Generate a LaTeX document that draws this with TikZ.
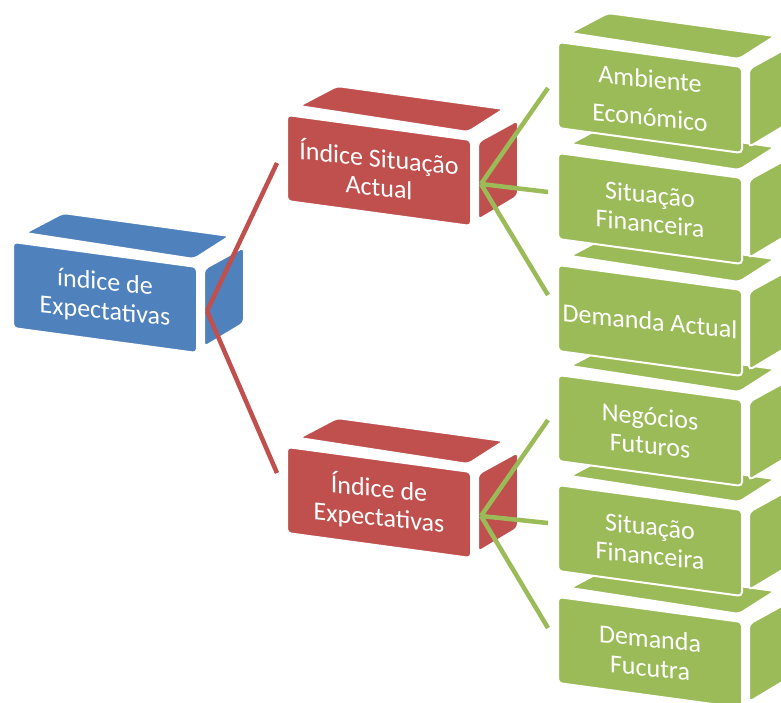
\documentclass[tikz,border=0pt]{standalone}
\usepackage{fontspec}
\setmainfont{Carlito}
\definecolor{cblue}{HTML}{4F81BD}
\definecolor{cred}{HTML}{C0504D}
\definecolor{cgreen}{HTML}{9BBB59}
\tikzset{
  face/.style={fill=#1, draw=white, line width=2pt, rounded corners=4pt},
  lbl/.style={text=white, align=center, font=\fontsize{26}{29}\selectfont, yslant=-0.1, inner sep=0pt},
  link/.style={line width=4.5pt, draw=#1}
}
\newcommand{\cubebox}[5]{%
  \path[face=#4] (#2+191,#3+27) -- (#2+231,#3+5) -- (#2+231,#3+81) -- (#2+191,#3+105) -- cycle;
  \path[face=#4] (#2+12,#3-9) -- (#2+50,#3-29) -- (#2+217,#3-6) -- (#2+181,#3+17) -- cycle;
  \path[face=#4] (#2,#3) -- (#2+184,#3+25) -- (#2+184,#3+111) -- (#2,#3+86) -- cycle;
  \node[lbl] (#1) at (#2+92,#3+56) {#5};
  \coordinate (#1-out) at (#2+194,#3+69);
}
\begin{document}
\begin{tikzpicture}[x=1pt,y=-1pt]
\clip (0,0) rectangle (781,702);
\fill[white] (0,0) rectangle (781,702);
\cubebox{blue}{13}{242}{cblue}{índice de\\Expectativas}
\cubebox{r1}{287}{115}{cred}{Índice Situação\\Actual}
\cubebox{r2}{287}{447}{cred}{Índice de\\Expectativas}
\cubebox{g6}{558}{597}{cgreen}{Demanda\\Fucutra}
\cubebox{g5}{558}{485}{cgreen}{Situação\\Financeira}
\cubebox{g4}{558}{375}{cgreen}{Negócios\\Futuros}
\cubebox{g3}{558}{265}{cgreen}{Demanda Actual}
\cubebox{g2}{558}{153}{cgreen}{Situação\\Financeira}
\cubebox{g1}{558}{42}{cgreen}{Ambiente\\[9pt]Económico}
\coordinate (r1-in) at (277,163);
\coordinate (r2-in) at (277,473);
\coordinate (g1-in) at (548,88);
\coordinate (g2-in) at (548,192);
\coordinate (g3-in) at (548,295);
\coordinate (g4-in) at (548,420);
\coordinate (g5-in) at (548,523);
\coordinate (g6-in) at (548,628);
\draw[link=cred] (blue-out) -- (r1-in);
\draw[link=cred] (blue-out) -- (r2-in);
\draw[link=cgreen] (r1-out) -- (g1-in);
\draw[link=cgreen] (r1-out) -- (g2-in);
\draw[link=cgreen] (r1-out) -- (g3-in);
\draw[link=cgreen] (r2-out) -- (g4-in);
\draw[link=cgreen] (r2-out) -- (g5-in);
\draw[link=cgreen] (r2-out) -- (g6-in);
\end{tikzpicture}
\end{document}
